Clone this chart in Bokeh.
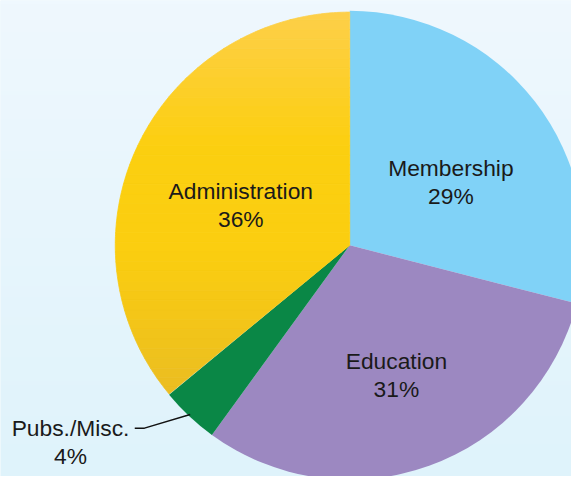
import numpy as np
from bokeh.plotting import figure
from bokeh.models import Range1d, ColumnDataSource
from bokeh.core.properties import value
from bokeh.embed import file_html
from bokeh.resources import INLINE

# ---- data ----
categories = ["Membership", "Education", "Pubs./Misc.", "Administration"]
shares = [29, 31, 4, 36]
pct_labels = ["29%", "31%", "4%", "36%"]
colors = ["#80d2f7", "#9c88c1", "#0a8746", "#fccf12"]

# ---- layout (reference picture pixels, 587x492, y measured from top) ----
REF_W, REF_H = 587, 492
W, H = 571, 476
CX, CY, R = 359, 253, 241
label_pos = [(463, 173), (407, 373), (72, 442), (247, 197)]  # baseline of first line
LINE_GAP = 29
FONT_SIZE = "22.8px"

def Y(img_y):
    return REF_H - img_y

p = figure(width=W, height=H, output_backend="svg", toolbar_location=None,
           x_range=Range1d(0, REF_W), y_range=Range1d(0, REF_H),
           min_border=0, outline_line_color=None)
p.axis.visible = False
p.grid.visible = False
p.background_fill_color = "#e6f5fc"
p.border_fill_color = "#e6f5fc"

# background gradient (bottom row first)
top = np.array([0xef, 0xf8, 0xfe], dtype=float)
bot = np.array([0xdf, 0xf3, 0xfb], dtype=float)
n = 120
img = np.zeros((n, 1), dtype=np.uint32)
view = img.view(dtype=np.uint8).reshape((n, 1, 4))
for i in range(n):
    t = i / (n - 1)
    c = bot * (1 - t) + top * t
    view[i, 0, 0:3] = c.astype(np.uint8)
    view[i, 0, 3] = 255
p.image_rgba(image=[img], x=0, y=0, dw=REF_W, dh=REF_H)

# wedges
total = sum(shares)
cum = np.concatenate([[0], np.cumsum(shares)]) / total
start = np.pi / 2 - 2 * np.pi * cum[:-1]
end = np.pi / 2 - 2 * np.pi * cum[1:]
src = ColumnDataSource(dict(start=start[:3], end=end[:3], color=colors[:3], cat=categories[:3]))
p.wedge(x=CX, y=Y(CY), radius=R, start_angle="start", end_angle="end",
        direction="clock", fill_color="color", line_color=None, source=src)

# Administration slice with a vertical colour gradient (sector clipped in bands)
a0, a1 = end[3], start[3]  # anticlockwise from a0 to a1
if a1 < a0:
    a1 += 2 * np.pi
ang = np.linspace(a0, a1, 200)
poly = [(CX, Y(CY))] + [(CX + R * np.cos(a), Y(CY) + R * np.sin(a)) for a in ang]

def clip(poly, yc, keep_above):
    out = []
    m = len(poly)
    for i in range(m):
        cur, prev = poly[i], poly[i - 1]
        cin = cur[1] >= yc if keep_above else cur[1] <= yc
        pin = prev[1] >= yc if keep_above else prev[1] <= yc
        if cin:
            if not pin:
                t = (yc - prev[1]) / (cur[1] - prev[1])
                out.append((prev[0] + t * (cur[0] - prev[0]), yc))
            out.append(cur)
        elif pin:
            t = (yc - prev[1]) / (cur[1] - prev[1])
            out.append((prev[0] + t * (cur[0] - prev[0]), yc))
    return out

stops_y = [12, 150, 260, 420]
stops_c = [(254, 207, 74), (252, 208, 16), (251, 206, 16), (234, 188, 36)]
def grad(img_y):
    r = np.interp(img_y, stops_y, [c[0] for c in stops_c])
    g = np.interp(img_y, stops_y, [c[1] for c in stops_c])
    b = np.interp(img_y, stops_y, [c[2] for c in stops_c])
    return "#%02x%02x%02x" % (int(r), int(g), int(b))

edges = np.linspace(10, 420, 42)
xs, ys, cols = [], [], []
for k in range(len(edges) - 1):
    ytop, ybot = Y(edges[k]), Y(edges[k + 1])
    pc = clip(clip(poly, ybot, True), ytop, False)
    if len(pc) >= 3:
        xs.append([q[0] for q in pc])
        ys.append([q[1] for q in pc])
        cols.append(grad((edges[k] + edges[k + 1]) / 2))
p.patches(xs=xs, ys=ys, fill_color=cols, line_color=cols, line_width=0.8)

# leader line for Pubs./Misc.
p.line(x=[138, 148, 195], y=[Y(442), Y(442), Y(428)], line_color="#111111", line_width=1.5)

# labels
lx = [pos[0] for pos in label_pos]
ly1 = [Y(pos[1]) for pos in label_pos]
ly2 = [Y(pos[1] + LINE_GAP) for pos in label_pos]
p.text(x=lx, y=ly1, text=categories, text_align="center", text_baseline="alphabetic",
       text_font=value("Liberation Sans"), text_font_size=FONT_SIZE, text_color="#1a1a1a")
p.text(x=lx, y=ly2, text=pct_labels, text_align="center", text_baseline="alphabetic",
       text_font=value("Liberation Sans"), text_font_size=FONT_SIZE, text_color="#1a1a1a")

open("out.html", "w").write(file_html(p, INLINE))
